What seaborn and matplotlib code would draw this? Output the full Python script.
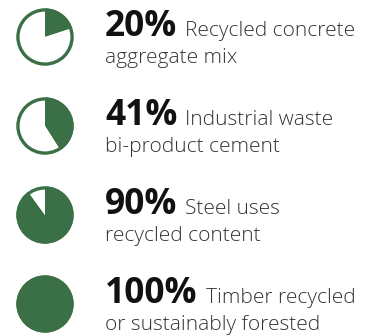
import matplotlib
matplotlib.use("Agg")
import matplotlib.pyplot as plt
import seaborn as sns
from matplotlib.patches import Circle

sns.set_theme(style="white")
plt.rcParams['font.family'] = ['Open Sans', 'DejaVu Sans']

percents = [20, 41, 90, 100]
pct_labels = ["20%", "41%", "90%", "100%"]
first_lines = ["Recycled concrete", "Industrial waste", "Steel uses", "Timber recycled"]
second_lines = ["aggregate mix", "bi-product cement", "recycled content", "or sustainably forested"]

GREEN = "#3b7046"
W, H = 365, 336
DPI = 100
fig = plt.figure(figsize=(W / DPI, H / DPI), dpi=DPI)
fig.patch.set_facecolor("white")

centers_y = [37, 126, 215, 304]
cx, r = 45, 28.5
text_x = 105
for i, p in enumerate(percents):
    cy = centers_y[i]
    ax = fig.add_axes([(cx - r - 2) / W, (H - cy - r - 2) / H, (2 * r + 4) / W, (2 * r + 4) / H])
    rest = 100 - p
    ax.pie([p, rest] if rest > 0 else [p], colors=[GREEN, "white"] if rest > 0 else [GREEN],
           startangle=90, counterclock=False, radius=1.0,
           wedgeprops=dict(linewidth=0))
    ax.add_patch(Circle((0, 0), 1.0 - 0.05, fill=False, edgecolor=GREEN, linewidth=2.4))
    lim = (r + 2) / r
    ax.set_xlim(-lim, lim)
    ax.set_ylim(-lim, lim)
    ax.set_aspect("equal")
    ax.axis("off")

fig.canvas.draw()
renderer = fig.canvas.get_renderer()
for i in range(len(percents)):
    base1 = centers_y[i] - 1
    base2 = base1 + 27
    t = fig.text(text_x / W, 1 - base1 / H, pct_labels[i], fontsize=25.5, fontweight="bold",
                 color="#111111", va="baseline", ha="left")
    bb = t.get_window_extent(renderer=renderer)
    fig.text((bb.x1 + 8) / W, 1 - base1 / H, first_lines[i], fontsize=15, fontweight=300,
             color="#333333", va="baseline", ha="left")
    fig.text(text_x / W, 1 - base2 / H, second_lines[i], fontsize=15, fontweight=300,
             color="#333333", va="baseline", ha="left")

fig.savefig("out.png", dpi=DPI, facecolor="white")
